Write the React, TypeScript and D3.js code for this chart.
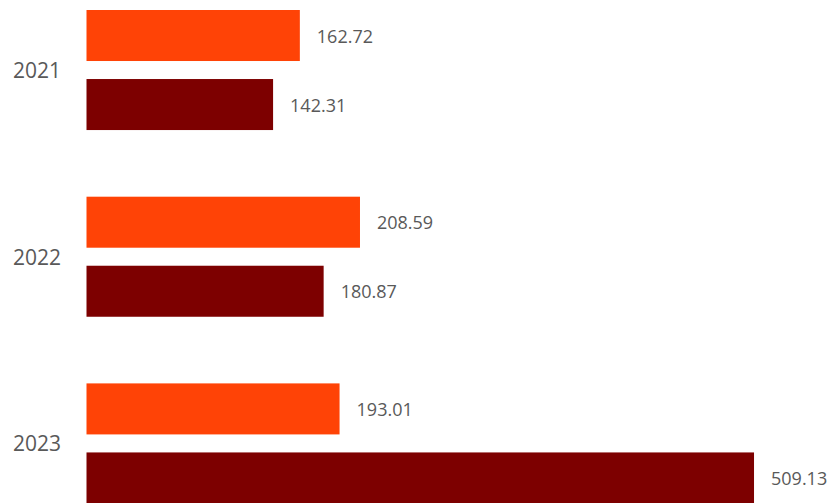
import React from "react";
import * as d3 from "d3";

const years = ["2021", "2022", "2023"];
const seriesNames = ["Series A", "Series B"];
const seriesA = [162.72, 208.59, 193.01];
const seriesB = [142.31, 180.87, 509.13];
const colors = ["#FF4306", "#7D0000"];

const W = 830;
const H = 503;

export default function App() {
  const step = 186.7;
  const p = 0.357;
  const r0 = 10 - step * p;
  const y = d3
    .scaleBand<string>()
    .domain(years)
    .range([r0, r0 + step * (years.length + p)])
    .padding(p);
  const ySub = d3
    .scaleBand<string>()
    .domain(seriesNames)
    .range([0, y.bandwidth()])
    .paddingInner(0.261)
    .paddingOuter(0);
  const x = d3.scaleLinear().domain([0, 540]).range([86.5, 86.5 + 1.3111 * 540]);

  const data = [seriesA, seriesB];

  return (
    <svg
      width={W}
      height={H}
      style={{ position: "absolute", left: 0, top: 0, background: "#fff" }}
      fontFamily="'Open Sans', sans-serif"
    >
      {years.map((yr, i) => (
        <g key={yr}>
          <text
            x={61}
            y={(y(yr) as number) + y.bandwidth() / 2}
            textAnchor="end"
            dominantBaseline="central"
            fontSize={21}
            fill="#595959"
          >
            {yr}
          </text>
          {seriesNames.map((s, j) => {
            const v = data[j][i];
            const yy = (y(yr) as number) + (ySub(s) as number);
            return (
              <g key={s}>
                <rect
                  x={x(0)}
                  y={yy}
                  width={x(v) - x(0)}
                  height={ySub.bandwidth()}
                  fill={colors[j]}
                />
                <text
                  x={x(v) + 17}
                  y={yy + ySub.bandwidth() / 2}
                  dominantBaseline="central"
                  fontSize={18}
                  fill="#595959"
                >
                  {v.toFixed(2)}
                </text>
              </g>
            );
          })}
        </g>
      ))}
    </svg>
  );
}
